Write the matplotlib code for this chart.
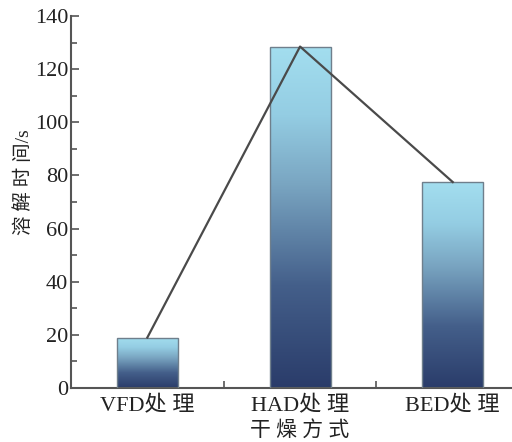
import numpy as np
import matplotlib.pyplot as plt
from matplotlib.colors import LinearSegmentedColormap
from matplotlib.ticker import MultipleLocator, FixedLocator

categories = ['VFD处 理', 'HAD处 理', 'BED处 理']
dissolve_time = [19, 128.5, 77.5]

fonts = ['Liberation Serif', 'Noto Sans CJK SC']
plt.rcParams['font.family'] = fonts

fig = plt.figure(figsize=(5.12, 4.42), dpi=100)
ax = fig.add_axes([0.1387, 0.1222, 0.8613, 0.8416])

# light blue at the top fading into navy at the base
grad = LinearSegmentedColormap.from_list(
    'bar_grad', [(0.0, '#2a3c6a'), (0.3, '#445f8a'), (0.6, '#7aa6c2'),
                 (0.8, '#94cde3'), (1.0, '#a3deef')])
x = np.arange(len(categories))
width = 0.4
bars = ax.bar(x, dissolve_time, width=width, color='none', edgecolor='#6f7f8c',
              linewidth=1.0, zorder=3)
gradient = np.linspace(0, 1, 256).reshape(-1, 1)
for bar in bars:
    bx, by = bar.get_x(), bar.get_y()
    im = ax.imshow(gradient, cmap=grad, origin='lower', aspect='auto',
                   extent=(bx, bx + bar.get_width(), by, by + bar.get_height()),
                   zorder=2)
    im.set_clip_path(bar)

ax.plot(x, dissolve_time, color='#4a4a4a', linewidth=1.6, zorder=4)

ax.set_xlim(-0.5, 2.388)
ax.set_ylim(0, 140)
ax.yaxis.set_major_locator(MultipleLocator(20))
ax.yaxis.set_minor_locator(MultipleLocator(10))
ax.set_xticks(x)
ax.set_xticklabels(categories)
ax.xaxis.set_minor_locator(FixedLocator([0.5, 1.5]))

ax.tick_params(axis='y', which='major', direction='in', length=6, width=1.2,
               color='#555555', labelsize=16, pad=2, labelcolor='#222222')
ax.tick_params(axis='y', which='minor', direction='in', length=4, width=1.2,
               color='#555555')
ax.tick_params(axis='x', which='major', length=0, labelsize=16, pad=6,
               labelcolor='#222222')
ax.tick_params(axis='x', which='minor', direction='in', length=5, width=1.2,
               color='#555555')

for side in ['top', 'right']:
    ax.spines[side].set_visible(False)
for side in ['left', 'bottom']:
    ax.spines[side].set_color('#555555')
    ax.spines[side].set_linewidth(1.5)

fig.text(24 / 512, 1 - 182 / 442, '溶 解 时 间/s', rotation=90, fontsize=14,
         ha='center', va='center', color='#222222')
fig.text(300 / 512, 1 - 431 / 442, '干 燥 方 式', fontsize=15,
         ha='center', va='center', color='#222222')

fig.savefig('out.png', dpi=100)
